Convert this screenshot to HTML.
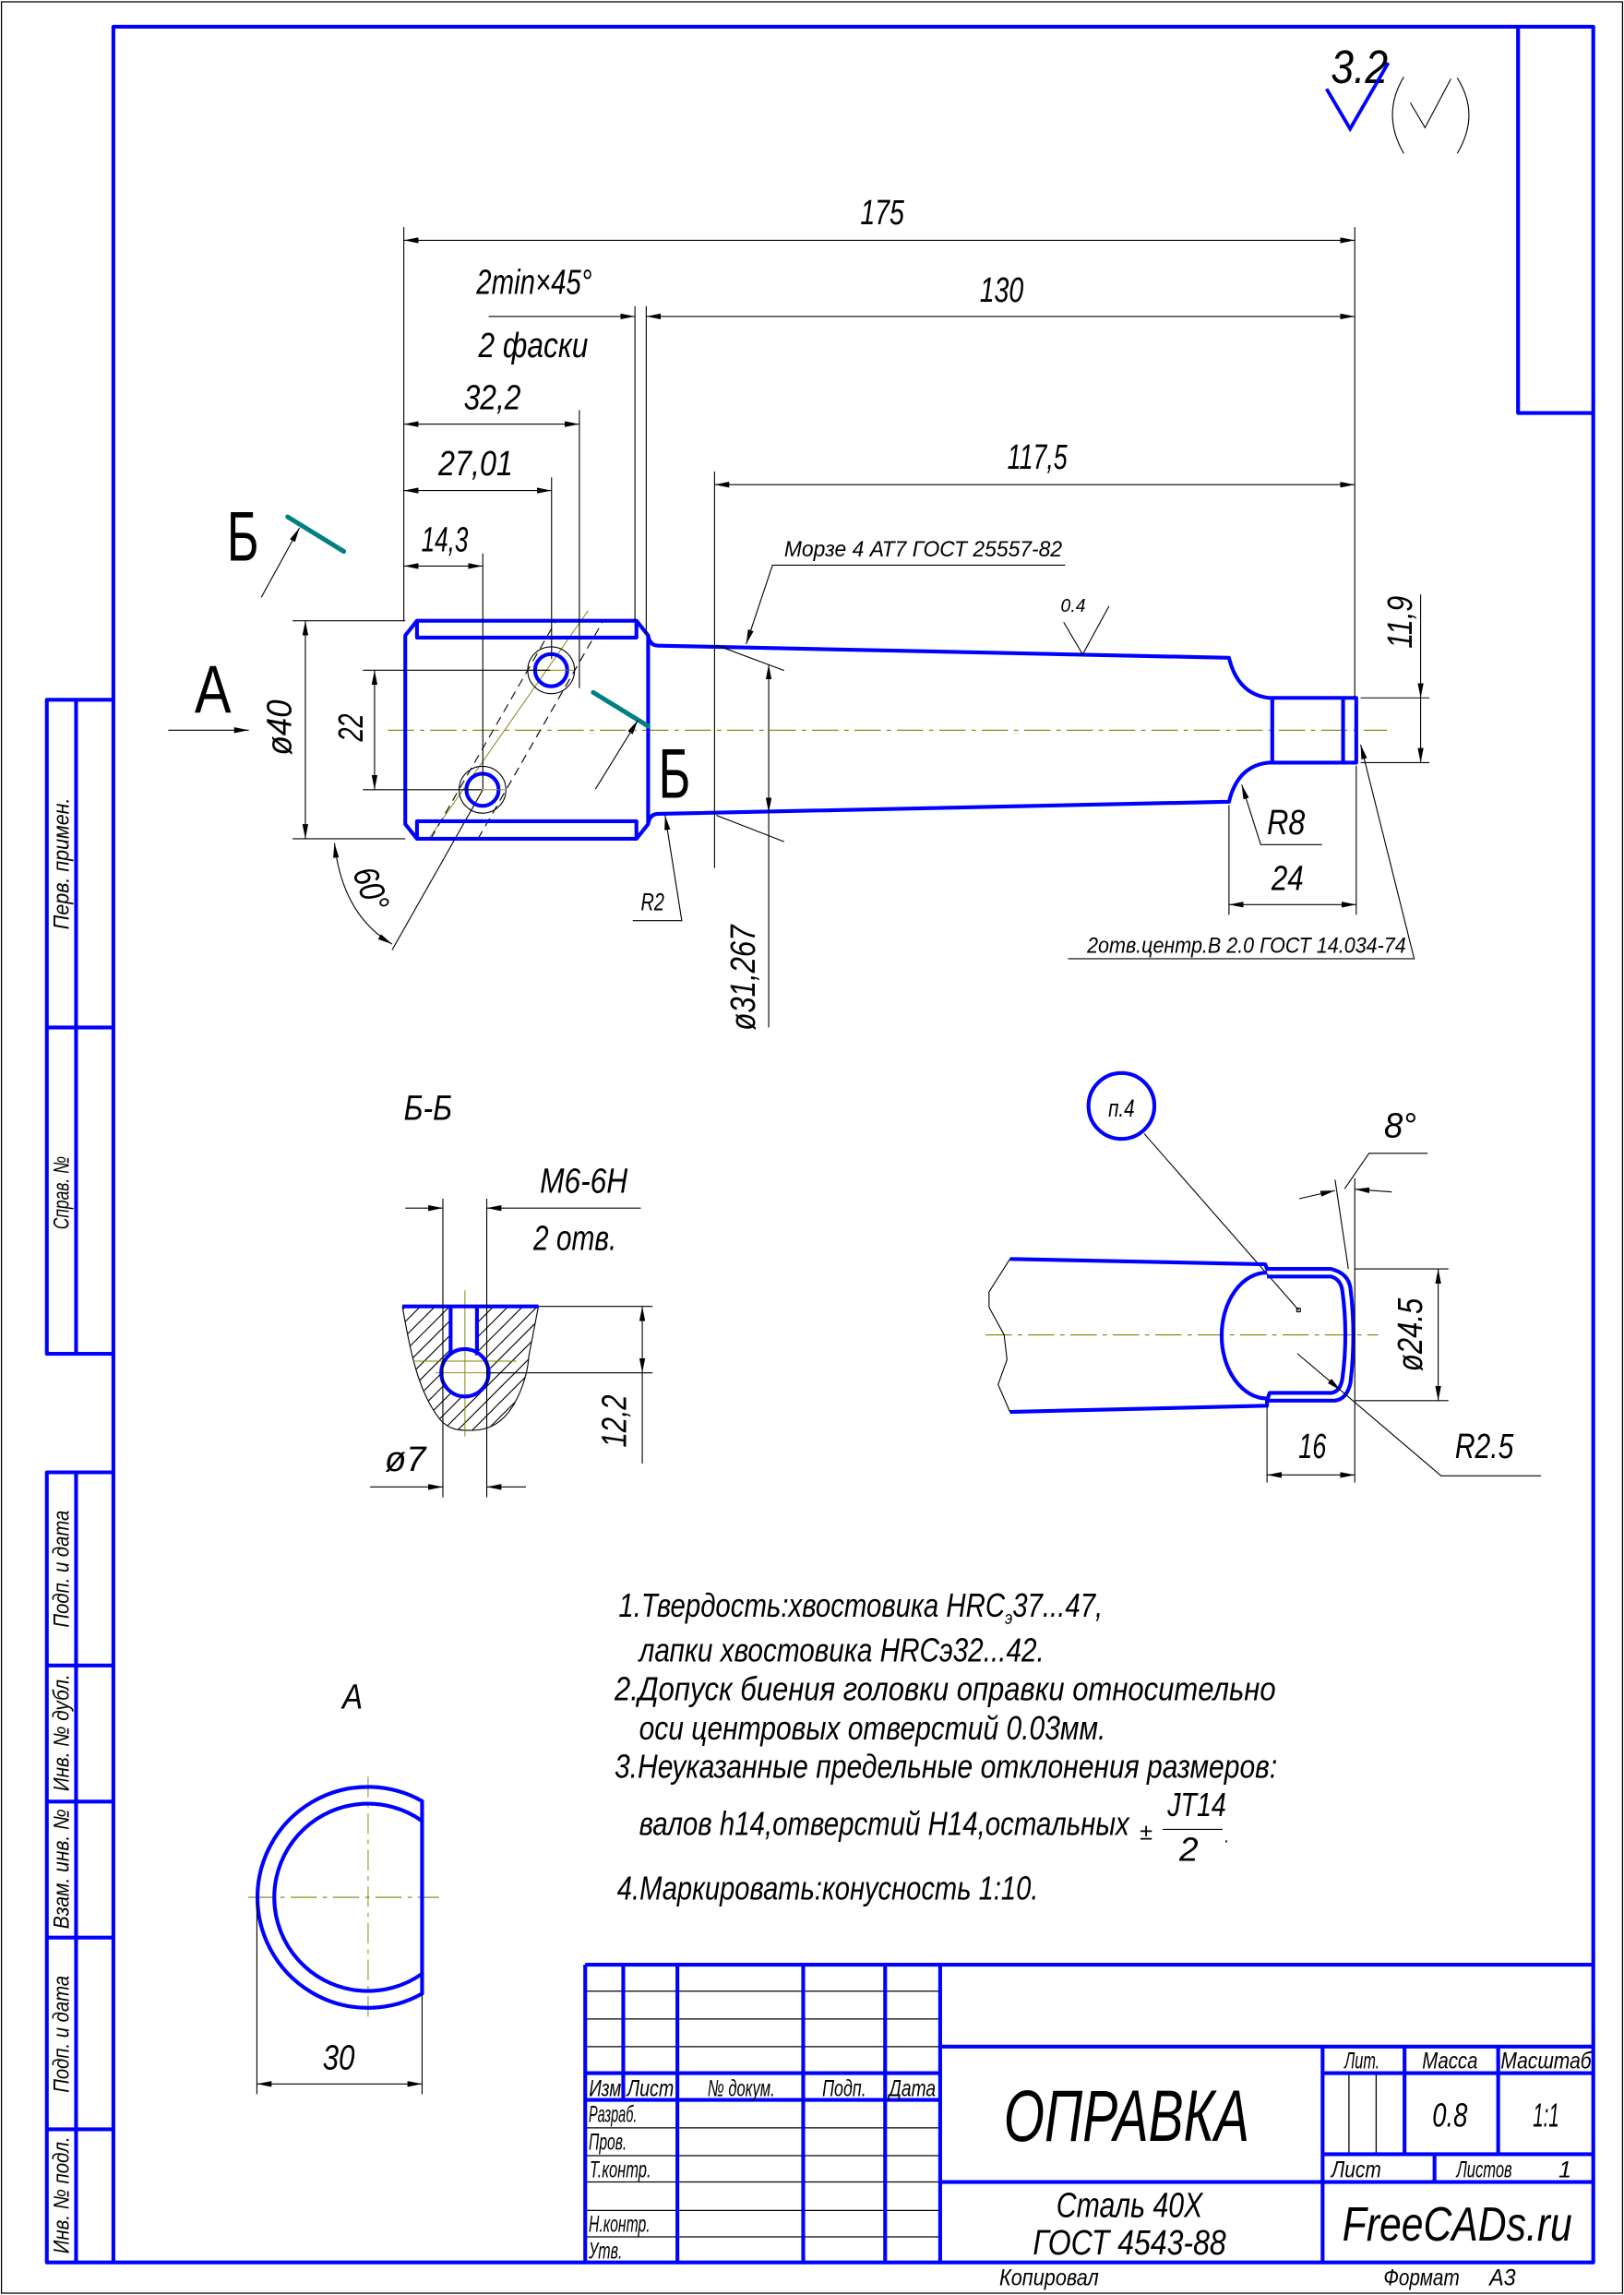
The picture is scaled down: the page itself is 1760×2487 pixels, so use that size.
<!DOCTYPE html>
<html><head><meta charset="utf-8"><style>
html,body{margin:0;padding:0;background:#fff;}
svg{display:block;}
.t{font-family:"Liberation Sans",sans-serif;font-style:italic;fill:#000;}
.b{stroke:#0000ff;stroke-width:2.6;fill:none;stroke-linejoin:round;}
.k{stroke:#000;stroke-width:0.7;fill:none;}
.c{stroke:#808000;stroke-width:0.7;fill:none;stroke-dasharray:18 4 3 4;}
.tb{stroke:#0000ff;stroke-width:2.6;fill:none;}
.tk{stroke:#000;stroke-width:0.8;fill:none;}
</style></head><body>
<svg width="1760" height="2487" viewBox="0 0 1110 1568" xmlns="http://www.w3.org/2000/svg">
<defs>
<marker id="a" markerUnits="userSpaceOnUse" markerWidth="10" markerHeight="4" refX="10" refY="2" orient="auto-start-reverse"><path d="M0,0 L10,2 L0,4 Z" fill="#000"/></marker>
<clipPath id="sec"><path d="M275,892.6 C280,920 285,950 300.6,969.7 C308,978 315,977.3 323.5,977.3 C340,977 348,965 351,960 C358,948 361,935 361.4,926.8 L368,892.6 Z"/></clipPath>
</defs>
<rect x="0" y="0" width="1110" height="1568" fill="#fff"/>
<rect x="1" y="1" width="1108" height="1566" fill="none" stroke="#000" stroke-width="0.8"/>

<!-- frame -->
<rect x="77.5" y="18" width="1011.5" height="1528" class="b"/>
<polyline points="1037.6,18 1037.6,282 1089,282" class="b"/>
<!-- left strip -->
<g class="b">
<path d="M77.5,478 L32,478 L32,925 L77.5,925 M52,478 L52,925 M32,702 L77.5,702"/>
<path d="M77.5,1006 L32,1006 L32,1546 L77.5,1546 M52,1006 L52,1546 M32,1138 L77.5,1138 M32,1231 L77.5,1231 M32,1324 L77.5,1324 M32,1455 L77.5,1455"/>
</g>
<g class="t" font-size="15">
<text transform="translate(47,590) rotate(-90)" text-anchor="middle" textLength="90" lengthAdjust="spacingAndGlyphs">Перв. примен.</text>
<text transform="translate(47,815) rotate(-90)" text-anchor="middle" textLength="50" lengthAdjust="spacingAndGlyphs">Справ. №</text>
<text transform="translate(47,1072) rotate(-90)" text-anchor="middle" textLength="80" lengthAdjust="spacingAndGlyphs">Подп. и дата</text>
<text transform="translate(47,1184) rotate(-90)" text-anchor="middle" textLength="80" lengthAdjust="spacingAndGlyphs">Инв. № дубл.</text>
<text transform="translate(47,1277) rotate(-90)" text-anchor="middle" textLength="82" lengthAdjust="spacingAndGlyphs">Взам. инв. №</text>
<text transform="translate(47,1390) rotate(-90)" text-anchor="middle" textLength="80" lengthAdjust="spacingAndGlyphs">Подп. и дата</text>
<text transform="translate(47,1500) rotate(-90)" text-anchor="middle" textLength="80" lengthAdjust="spacingAndGlyphs">Инв. № подл.</text>
</g>

<!-- roughness -->
<text class="t" x="909.6" y="56.4" font-size="32" textLength="39" lengthAdjust="spacingAndGlyphs">3.2</text>
<polyline points="906.7,60.5 922.8,87.8 948.9,42.7" stroke="#0000ff" stroke-width="2.4" fill="none"/>
<path d="M959.5,52.3 Q944,78 959.5,104.6 M996,53 Q1012,78 996,104.6 M964,70 L974,87 L991.7,53.6" class="k"/>

<!-- ===== main view ===== -->
<line x1="265" y1="498.8" x2="948" y2="498.8" class="c"/>
<!-- hole axes -->
<line x1="294" y1="571.7" x2="402" y2="417" stroke="#808000" stroke-width="0.6"/>
<g class="k" stroke-dasharray="6 4">
<line x1="326.7" y1="573" x2="412.3" y2="424"/>
<line x1="294.4" y1="573" x2="380.1" y2="424"/>
</g>
<line x1="268" y1="649" x2="330" y2="539.5" class="k"/>
<!-- head -->
<path d="M285,424 L435,424 L443,434 L443,563 L435,573 L285,573 L277,563 L277,434 Z" class="b"/>
<path d="M285,424 L285,435.5 L435,435.5 L435,424 M285,573 L285,561 L435,561 L435,573" class="b"/>
<!-- shank -->
<path d="M443,434 Q444,441 450,441 L840,449.3 Q846,474 867,476.7 L927,476.7 L927,521 L867,521 Q846,523 840,547.7 L450,556 Q444,556 443,563" class="b"/>
<path d="M869.6,476.7 L869.6,521 M918,476.7 L918,521" class="b"/>
<!-- holes -->
<circle cx="376.7" cy="457.8" r="11" class="b"/>
<circle cx="329.8" cy="539.5" r="11" class="b"/>
<circle cx="376.7" cy="457.8" r="16" class="k"/>
<circle cx="329.8" cy="539.5" r="16" class="k"/>
<line x1="362" y1="457.8" x2="392" y2="457.8" stroke="#808000" stroke-width="0.6"/>
<line x1="315" y1="539.5" x2="345" y2="539.5" stroke="#808000" stroke-width="0.6"/>
<!-- section marks -->
<line x1="196.6" y1="353" x2="235" y2="376.6" stroke="#008080" stroke-width="3.2" stroke-linecap="round"/>
<line x1="405.5" y1="473" x2="443" y2="496" stroke="#008080" stroke-width="3.2" stroke-linecap="round"/>
<line x1="178.6" y1="408" x2="204.7" y2="360.5" class="k" marker-end="url(#a)"/>
<line x1="407" y1="539" x2="436" y2="492" class="k" marker-end="url(#a)"/>
<text x="155" y="383" font-family="Liberation Sans,sans-serif" font-size="48" textLength="22" lengthAdjust="spacingAndGlyphs">Б</text>
<text x="450" y="545" font-family="Liberation Sans,sans-serif" font-size="48" textLength="22" lengthAdjust="spacingAndGlyphs">Б</text>
<line x1="115" y1="498.8" x2="170" y2="498.8" class="k" marker-end="url(#a)"/>
<text x="133" y="487" font-family="Liberation Sans,sans-serif" font-size="46" textLength="25" lengthAdjust="spacingAndGlyphs">А</text>

<!-- dims top -->
<g class="k">
<line x1="276" y1="155" x2="276" y2="424"/>
<line x1="926" y1="155" x2="926" y2="476"/>
<line x1="276" y1="164" x2="926" y2="164" marker-start="url(#a)" marker-end="url(#a)"/>
<line x1="434" y1="209" x2="434" y2="424"/>
<line x1="441.7" y1="209" x2="441.7" y2="434"/>
<line x1="334" y1="216" x2="434" y2="216" marker-end="url(#a)"/>
<line x1="441.7" y1="216" x2="926" y2="216" marker-start="url(#a)" marker-end="url(#a)"/>
<line x1="396" y1="280" x2="396" y2="470"/>
<line x1="276" y1="289.6" x2="396" y2="289.6" marker-start="url(#a)" marker-end="url(#a)"/>
<line x1="377" y1="326" x2="377" y2="450"/>
<line x1="276" y1="335" x2="377" y2="335" marker-start="url(#a)" marker-end="url(#a)"/>
<line x1="330" y1="378" x2="330" y2="539"/>
<line x1="276" y1="386.6" x2="330" y2="386.6" marker-start="url(#a)" marker-end="url(#a)"/>
<line x1="488.4" y1="322" x2="488.4" y2="593"/>
<line x1="488.4" y1="331" x2="926" y2="331" marker-start="url(#a)" marker-end="url(#a)"/>
<!-- morze -->
<polyline points="728,386 528,386 510,440" marker-end="url(#a)"/>
<!-- 0.4 -->
<polyline points="727,425 740,447 758,414"/>
<!-- phi40 -->
<line x1="200" y1="424" x2="277" y2="424"/>
<line x1="200" y1="573" x2="277" y2="573"/>
<line x1="208.7" y1="424" x2="208.7" y2="573" marker-start="url(#a)" marker-end="url(#a)"/>
<line x1="248" y1="457.8" x2="376" y2="457.8"/>
<line x1="248" y1="539.5" x2="329" y2="539.5"/>
<line x1="256" y1="457.8" x2="256" y2="539.5" marker-start="url(#a)" marker-end="url(#a)"/>
<!-- 60 -->
<path d="M228.6,576 Q234,625 268,645" marker-start="url(#a)" marker-end="url(#a)"/>
<!-- phi31 -->
<line x1="489.7" y1="440.7" x2="536" y2="458"/>
<line x1="489.7" y1="557" x2="536" y2="575"/>
<line x1="525.4" y1="454" x2="525.4" y2="555" marker-start="url(#a)" marker-end="url(#a)"/>
<line x1="525.4" y1="555" x2="525.4" y2="702"/>
<!-- 11.9 -->
<line x1="930" y1="476.7" x2="977" y2="476.7"/>
<line x1="930" y1="521" x2="977" y2="521"/>
<line x1="971" y1="406" x2="971" y2="476.7" marker-end="url(#a)"/>
<line x1="971" y1="521" x2="971" y2="476.7" marker-start="url(#a)"/>
<!-- R2 -->
<polyline points="432.5,629 466,629 454.6,557" marker-end="url(#a)"/>
<!-- R8 -->
<polyline points="903.6,577 861.7,577 848.7,536" marker-end="url(#a)"/>
<!-- 24 -->
<line x1="840" y1="550" x2="840" y2="625"/>
<line x1="927" y1="523" x2="927" y2="625"/>
<line x1="840" y1="618" x2="927" y2="618" marker-start="url(#a)" marker-end="url(#a)"/>
<!-- center hole -->
<polyline points="730,655 966.6,655 930,508.6" marker-end="url(#a)"/>
</g>
<g class="t" font-size="24">
<text x="588" y="153" textLength="30" lengthAdjust="spacingAndGlyphs">175</text>
<text x="669.6" y="206" textLength="30" lengthAdjust="spacingAndGlyphs">130</text>
<text x="688.5" y="320" textLength="41" lengthAdjust="spacingAndGlyphs">117,5</text>
<text x="325.6" y="200.6" textLength="79" lengthAdjust="spacingAndGlyphs">2min×45°</text>
<text x="327" y="243.8" textLength="75" lengthAdjust="spacingAndGlyphs">2 фаски</text>
<text x="317" y="279.5" textLength="39" lengthAdjust="spacingAndGlyphs">32,2</text>
<text x="299.6" y="324.7" textLength="51" lengthAdjust="spacingAndGlyphs">27,01</text>
<text x="288" y="376.5" textLength="32" lengthAdjust="spacingAndGlyphs">14,3</text>
<text transform="translate(199,497) rotate(-90)" text-anchor="middle" textLength="38" lengthAdjust="spacingAndGlyphs">ø40</text>
<text transform="translate(248,497) rotate(-90)" text-anchor="middle" textLength="19" lengthAdjust="spacingAndGlyphs">22</text>
<text transform="translate(516,668) rotate(-90)" text-anchor="middle" textLength="72" lengthAdjust="spacingAndGlyphs">ø31,267</text>
<text transform="translate(965,425) rotate(-90)" text-anchor="middle" textLength="36" lengthAdjust="spacingAndGlyphs">11,9</text>
<text transform="translate(246,610) rotate(70)" text-anchor="middle" textLength="30" lengthAdjust="spacingAndGlyphs">60°</text>
<text x="866" y="570" textLength="26" lengthAdjust="spacingAndGlyphs">R8</text>
<text x="869" y="608" textLength="22" lengthAdjust="spacingAndGlyphs">24</text>
</g>
<g class="t" font-size="15">
<text x="536" y="380" textLength="190" lengthAdjust="spacingAndGlyphs">Морзе 4 АТ7 ГОСТ 25557-82</text>
<text x="725" y="418" font-size="13" textLength="17" lengthAdjust="spacingAndGlyphs">0.4</text>
<text x="438" y="622" font-size="17" textLength="16" lengthAdjust="spacingAndGlyphs">R2</text>
<text x="743" y="651" textLength="218" lengthAdjust="spacingAndGlyphs">2отв.центр.В 2.0 ГОСТ 14.034-74</text>
</g>

<!-- ===== section Б-Б ===== -->
<text class="t" x="276" y="765" font-size="24" textLength="33" lengthAdjust="spacingAndGlyphs">Б-Б</text>
<g clip-path="url(#sec)" class="k">
<path d="M230,1000 L350,880 M240,1000 L360,880 M250,1000 L370,880 M260,1000 L380,880 M270,1000 L390,880 M280,1000 L400,880 M290,1000 L410,880 M300,1000 L420,880 M310,1000 L430,880 M320,1000 L440,880 M330,1000 L450,880 M340,1000 L460,880 M220,1000 L340,880 M210,1000 L330,880 M200,1000 L320,880 M190,1000 L310,880 M180,1000 L300,880 M170,1000 L290,880"/>
</g>
<path d="M308,892.6 L308,924 L326,924 L326,892.6 Z" fill="#fff"/>
<circle cx="317.8" cy="938" r="16.2" fill="#fff"/>
<path d="M275,892.6 C280,920 285,950 300.6,969.7 C308,978 315,977.3 323.5,977.3 C340,977 348,965 351,960 C358,948 361,935 361.4,926.8 L368,892.6" class="k"/>
<line x1="282.6" y1="930" x2="353" y2="930" stroke="#808000" stroke-width="0.6"/>
<line x1="297.6" y1="938" x2="337" y2="938" stroke="#808000" stroke-width="0.6"/>
<line x1="317.8" y1="881.6" x2="317.8" y2="981.5" stroke="#808000" stroke-width="0.6"/>
<line x1="275" y1="892.6" x2="368" y2="892.6" class="b"/>
<path d="M308,892.6 L308,926 M326,892.6 L326,926" class="b"/>
<circle cx="317.8" cy="938" r="16.2" class="b"/>
<g class="k">
<line x1="302.7" y1="819" x2="302.7" y2="1023"/>
<line x1="332.7" y1="819" x2="332.7" y2="1023"/>
<line x1="277" y1="825.4" x2="302.7" y2="825.4" marker-end="url(#a)"/>
<line x1="332.7" y1="825.4" x2="438" y2="825.4" marker-start="url(#a)"/>
<line x1="368" y1="892.6" x2="446" y2="892.6"/>
<line x1="334" y1="938" x2="446" y2="938"/>
<line x1="439" y1="892.6" x2="439" y2="938" marker-start="url(#a)" marker-end="url(#a)"/>
<line x1="439" y1="938" x2="439" y2="1000"/>
<line x1="253" y1="1016" x2="302.7" y2="1016" marker-end="url(#a)"/>
<line x1="332.7" y1="1016" x2="359.5" y2="1016" marker-start="url(#a)"/>
</g>
<g class="t" font-size="24">
<text x="399" y="815" text-anchor="middle" textLength="60" lengthAdjust="spacingAndGlyphs">M6-6H</text>
<text x="393" y="854" text-anchor="middle" textLength="57" lengthAdjust="spacingAndGlyphs">2 отв.</text>
<text transform="translate(428,971) rotate(-90)" text-anchor="middle" textLength="36" lengthAdjust="spacingAndGlyphs">12,2</text>
<text x="277" y="1005" text-anchor="middle" textLength="28" lengthAdjust="spacingAndGlyphs">ø7</text>
</g>

<!-- ===== detail п.4 ===== -->
<circle cx="766.5" cy="755.6" r="22.5" class="b"/>
<text class="t" x="766.5" y="763" font-size="17" text-anchor="middle" textLength="18" lengthAdjust="spacingAndGlyphs">п.4</text>
<line x1="782" y1="774.5" x2="887.8" y2="895.3" class="k"/>
<rect x="886.3" y="893.8" width="2.5" height="2.5" class="k"/>
<line x1="673.6" y1="912.1" x2="942" y2="912.1" class="c"/>
<path d="M690.3,860.2 L676,882.7 L676,893.2 L686.3,912 L688.3,929 L682.2,946 L690.3,964.7" class="k"/>
<path d="M690.3,860.2 L864.8,863.8 L866,867 L909.8,867 Q921.6,870 923,880 Q927,912 923,945 Q920.5,956 912.4,957 L866,957 L866,960.5 L690.3,964.7" class="b"/>
<path d="M866,872.2 L909.8,872.2 Q916.4,874 917.5,882 Q921.6,912 917.5,942 Q916,951 910,951.7 L867.8,951.7 L866,957" class="b"/>
<path d="M866,869.5 A31,43 0 0 0 866,955.5" class="b"/>
<g class="k">
<line x1="926" y1="805" x2="926" y2="1013"/>
<line x1="912.5" y1="806" x2="921.6" y2="867"/>
<line x1="888" y1="819" x2="912.5" y2="813.4" marker-end="url(#a)"/>
<line x1="951.3" y1="814.4" x2="926" y2="812.5" marker-end="url(#a)"/>
<polyline points="919,812.3 935.7,788 975.8,788"/>
<line x1="926" y1="867" x2="990" y2="867"/>
<line x1="926" y1="957" x2="990" y2="957"/>
<line x1="983" y1="867" x2="983" y2="957" marker-start="url(#a)" marker-end="url(#a)"/>
<line x1="866" y1="960" x2="866" y2="1013"/>
<line x1="866" y1="1007.8" x2="926" y2="1007.8" marker-start="url(#a)" marker-end="url(#a)"/>
<line x1="886.7" y1="924.8" x2="916.4" y2="950" marker-end="url(#a)"/>
<polyline points="916.4,950 985,1008.4 1053.3,1008.4"/>
</g>
<g class="t" font-size="24">
<text x="946" y="777" textLength="22" lengthAdjust="spacingAndGlyphs">8°</text>
<text transform="translate(972,912) rotate(-90)" text-anchor="middle" textLength="50" lengthAdjust="spacingAndGlyphs">ø24.5</text>
<text x="897" y="996.3" text-anchor="middle" textLength="19" lengthAdjust="spacingAndGlyphs">16</text>
<text x="1014.5" y="996.3" text-anchor="middle" textLength="40" lengthAdjust="spacingAndGlyphs">R2.5</text>
</g>

<!-- ===== notes ===== -->
<g class="t" font-size="23">
<text x="422.8" y="1104.6" textLength="331" lengthAdjust="spacingAndGlyphs">1.Твердость:хвостовика HRC<tspan font-size="13" dy="5">э</tspan><tspan dy="-5">37...47,</tspan></text>
<text x="436.8" y="1135.4" textLength="277" lengthAdjust="spacingAndGlyphs">лапки хвостовика HRCэ32...42.</text>
<text x="420" y="1161.8" textLength="452" lengthAdjust="spacingAndGlyphs">2.Допуск биения головки оправки относительно</text>
<text x="436.8" y="1188.5" textLength="319" lengthAdjust="spacingAndGlyphs">оси центровых отверстий 0.03мм.</text>
<text x="420" y="1214.8" textLength="453" lengthAdjust="spacingAndGlyphs">3.Неуказанные предельные отклонения размеров:</text>
<text x="436.8" y="1254" textLength="335" lengthAdjust="spacingAndGlyphs">валов h14,отверстий H14,остальных</text>
<text x="779" y="1257" font-size="16">±</text>
<text x="798" y="1241" textLength="40" lengthAdjust="spacingAndGlyphs">JT14</text>
<text x="806" y="1271.6" textLength="13" lengthAdjust="spacingAndGlyphs">2</text>
<text x="837" y="1259" font-size="12">.</text>
<text x="421.8" y="1297.9" textLength="288" lengthAdjust="spacingAndGlyphs">4.Маркировать:конусность 1:10.</text>
</g>
<line x1="794.6" y1="1250" x2="835.6" y2="1250" class="k"/>

<!-- ===== view A ===== -->
<text class="t" x="241" y="1167.6" font-size="24" text-anchor="middle" textLength="14" lengthAdjust="spacingAndGlyphs">А</text>
<line x1="251.6" y1="1214" x2="251.6" y2="1381" stroke="#808000" stroke-width="0.6" stroke-dasharray="14 4 3 4"/>
<line x1="169.6" y1="1296.5" x2="300" y2="1296.5" class="c"/>
<path d="M288.5,1230.7 A75.5,75.5 0 1 0 288.5,1362.3 Z" class="b"/>
<path d="M288.5,1244.3 A64,64 0 1 0 288.5,1348.7" class="b"/>
<g class="k">
<line x1="175.6" y1="1300" x2="175.6" y2="1431"/>
<line x1="288.5" y1="1362" x2="288.5" y2="1431"/>
<line x1="175.6" y1="1424" x2="288.5" y2="1424" marker-start="url(#a)" marker-end="url(#a)"/>
</g>
<text class="t" x="231.5" y="1414" font-size="24" text-anchor="middle" textLength="22" lengthAdjust="spacingAndGlyphs">30</text>

<!-- ===== title block ===== -->
<g class="tk">
<path d="M400,1360.6 L642.6,1360.6 M400,1379.6 L642.6,1379.6 M400,1398.5 L642.6,1398.5"/>
<path d="M400,1454 L642.6,1454 M400,1473 L642.6,1473 M400,1491 L642.6,1491 M400,1510.5 L642.6,1510.5 M400,1528.5 L642.6,1528.5"/>
<path d="M922,1416.6 L922,1472 M940.6,1416.6 L940.6,1472"/>
</g>
<g class="tb">
<line x1="400" y1="1342.5" x2="1089" y2="1342.5"/>
<line x1="400" y1="1342.5" x2="400" y2="1546"/>
<line x1="426" y1="1342.5" x2="426" y2="1434.9"/>
<line x1="463" y1="1342.5" x2="463" y2="1546"/>
<line x1="549" y1="1342.5" x2="549" y2="1546"/>
<line x1="605" y1="1342.5" x2="605" y2="1546"/>
<line x1="642.6" y1="1342.5" x2="642.6" y2="1546"/>
<line x1="400" y1="1416.6" x2="642.6" y2="1416.6"/>
<line x1="400" y1="1434.9" x2="642.6" y2="1434.9"/>
<line x1="642.6" y1="1398.5" x2="1089" y2="1398.5"/>
<line x1="642.6" y1="1491" x2="1089" y2="1491"/>
<line x1="904" y1="1398.5" x2="904" y2="1546"/>
<line x1="904" y1="1416.6" x2="1089" y2="1416.6"/>
<line x1="904" y1="1472" x2="1089" y2="1472"/>
<line x1="960" y1="1398.5" x2="960" y2="1472"/>
<line x1="1024" y1="1398.5" x2="1024" y2="1472"/>
<line x1="980.5" y1="1472" x2="980.5" y2="1491"/>
</g>
<g class="t" font-size="16">
<text x="413.6" y="1432.5" text-anchor="middle" textLength="22" lengthAdjust="spacingAndGlyphs">Изм</text>
<text x="444.6" y="1432.5" text-anchor="middle" textLength="32" lengthAdjust="spacingAndGlyphs">Лист</text>
<text x="506.6" y="1432.5" text-anchor="middle" textLength="46" lengthAdjust="spacingAndGlyphs">№ докум.</text>
<text x="577" y="1432.5" text-anchor="middle" textLength="30" lengthAdjust="spacingAndGlyphs">Подп.</text>
<text x="623.6" y="1432.5" text-anchor="middle" textLength="32" lengthAdjust="spacingAndGlyphs">Дата</text>
<text x="402.4" y="1450" textLength="33" lengthAdjust="spacingAndGlyphs">Разраб.</text>
<text x="402.4" y="1469" textLength="26" lengthAdjust="spacingAndGlyphs">Пров.</text>
<text x="403" y="1488" textLength="42" lengthAdjust="spacingAndGlyphs">Т.контр.</text>
<text x="402.4" y="1525" textLength="42" lengthAdjust="spacingAndGlyphs">Н.контр.</text>
<text x="402.4" y="1543.3" textLength="23" lengthAdjust="spacingAndGlyphs">Утв.</text>
<text x="931" y="1413.4" text-anchor="middle" textLength="24" lengthAdjust="spacingAndGlyphs">Лит.</text>
<text x="991" y="1413.4" text-anchor="middle" textLength="38" lengthAdjust="spacingAndGlyphs">Масса</text>
<text x="1056.7" y="1413.4" text-anchor="middle" textLength="62" lengthAdjust="spacingAndGlyphs">Масштаб</text>
<text x="910" y="1488" textLength="34" lengthAdjust="spacingAndGlyphs">Лист</text>
<text x="1014.5" y="1488" text-anchor="middle" textLength="38" lengthAdjust="spacingAndGlyphs">Листов</text>
<text x="1069.7" y="1488" text-anchor="middle">1</text>
<text x="717" y="1561.6" text-anchor="middle" textLength="68" lengthAdjust="spacingAndGlyphs">Копировал</text>
<text x="971.6" y="1561.6" text-anchor="middle" textLength="52" lengthAdjust="spacingAndGlyphs">Формат</text>
<text x="1027" y="1561.6" text-anchor="middle" textLength="18" lengthAdjust="spacingAndGlyphs">А3</text>
</g>
<g class="t">
<text x="770" y="1463" font-size="50" text-anchor="middle" textLength="168" lengthAdjust="spacingAndGlyphs">ОПРАВКА</text>
<text x="991" y="1453.3" font-size="23" text-anchor="middle" textLength="24" lengthAdjust="spacingAndGlyphs">0.8</text>
<text x="1056.7" y="1453.3" font-size="23" text-anchor="middle" textLength="18" lengthAdjust="spacingAndGlyphs">1:1</text>
<text x="772" y="1515" font-size="24" text-anchor="middle" textLength="100" lengthAdjust="spacingAndGlyphs">Сталь 40Х</text>
<text x="772" y="1540.5" font-size="24" text-anchor="middle" textLength="132" lengthAdjust="spacingAndGlyphs">ГОСТ 4543-88</text>
<text x="996" y="1531" font-size="33" text-anchor="middle" textLength="157" lengthAdjust="spacingAndGlyphs">FreeCADs.ru</text>
</g>
</svg>
</body></html>
